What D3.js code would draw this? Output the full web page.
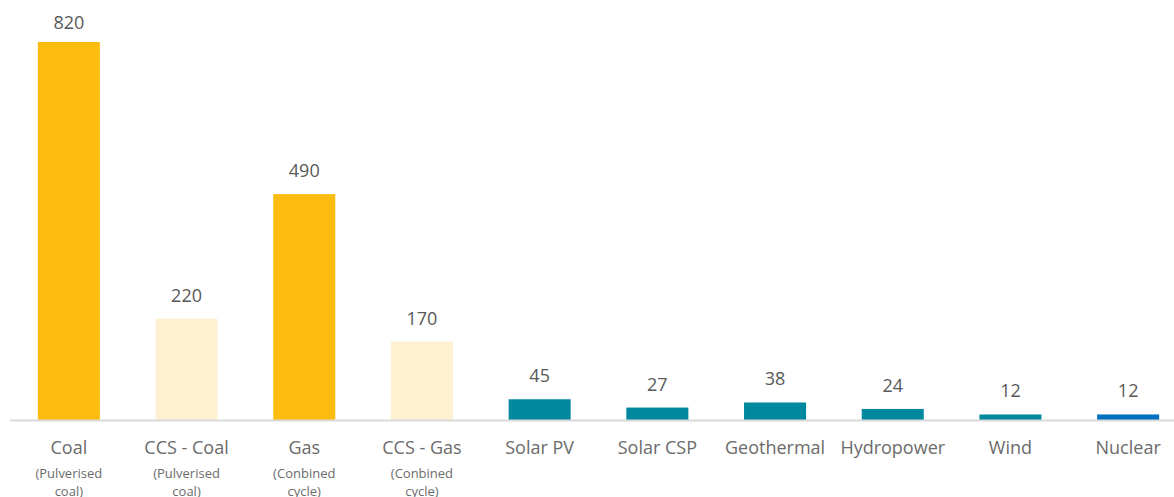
<!DOCTYPE html>
<html>
<head>
<style>
body {margin: 0; background: #fff;}
text {font-family: "Open Sans", "Noto Sans", sans-serif;}
</style>
<script src="https://d3js.org/d3.v7.min.js"></script>
</head>
<body>
<svg id="vis" width="1174" height="497"></svg>
<script>
// data
var categories = ["Coal", "CCS - Coal", "Gas", "CCS - Gas", "Solar PV", "Solar CSP", "Geothermal", "Hydropower", "Wind", "Nuclear"];
var subLabels = [["(Pulverised", "coal)"], ["(Pulverised", "coal)"], ["(Conbined", "cycle)"], ["(Conbined", "cycle)"], [], [], [], [], [], []];
var values = [820, 220, 490, 170, 45, 27, 38, 24, 12, 12];
var groups = ["fossil", "ccs", "fossil", "ccs", "renew", "renew", "renew", "renew", "renew", "nuclear"];

var colors = {fossil: "#fbbc0f", ccs: "#fef1d2", renew: "#00889e", nuclear: "#0070c0"};

var svg = d3.select("#vis");
var base = 420;

var x = d3.scaleBand()
    .domain(categories)
    .range([10, 1187])
    .paddingInner(0.473)
    .paddingOuter(0.2365);

var y = d3.scaleLinear()
    .domain([0, 820])
    .range([base, 42]);

svg.selectAll("rect.bar")
  .data(values)
  .enter().append("rect")
    .attr("class", "bar")
    .attr("x", function(d, i) { return x(categories[i]); })
    .attr("width", x.bandwidth())
    .attr("y", function(d) { return y(d); })
    .attr("height", function(d) { return base - y(d); })
    .style("fill", function(d, i) { return colors[groups[i]]; });

// baseline
svg.append("line")
    .attr("x1", 10).attr("x2", 1174)
    .attr("y1", base + 0.5).attr("y2", base + 0.5)
    .style("stroke", "#d9d9d9")
    .style("stroke-width", 2);

// value labels (the top one sits a bit closer to its bar)
svg.selectAll("text.val")
  .data(values)
  .enter().append("text")
    .attr("class", "val")
    .attr("x", function(d, i) { return x(categories[i]) + x.bandwidth() / 2; })
    .attr("y", function(d) { return Math.max(y(d) - 17, 29); })
    .attr("text-anchor", "middle")
    .style("font-size", "18px")
    .style("fill", "#595959")
    .text(function(d) { return d; });

// category labels
svg.selectAll("text.cat")
  .data(categories)
  .enter().append("text")
    .attr("class", "cat")
    .attr("x", function(d) { return x(d) + x.bandwidth() / 2; })
    .attr("y", 454)
    .attr("text-anchor", "middle")
    .style("font-size", "18px")
    .style("fill", "#6b6b6b")
    .text(function(d) { return d; });

categories.forEach(function(c, i) {
  subLabels[i].forEach(function(s, j) {
    svg.append("text")
      .attr("x", x(c) + x.bandwidth() / 2)
      .attr("y", 478 + j * 18)
      .attr("text-anchor", "middle")
      .style("font-size", "13px")
      .style("fill", "#6b6b6b")
      .text(s);
  });
});
</script>
</body>
</html>
